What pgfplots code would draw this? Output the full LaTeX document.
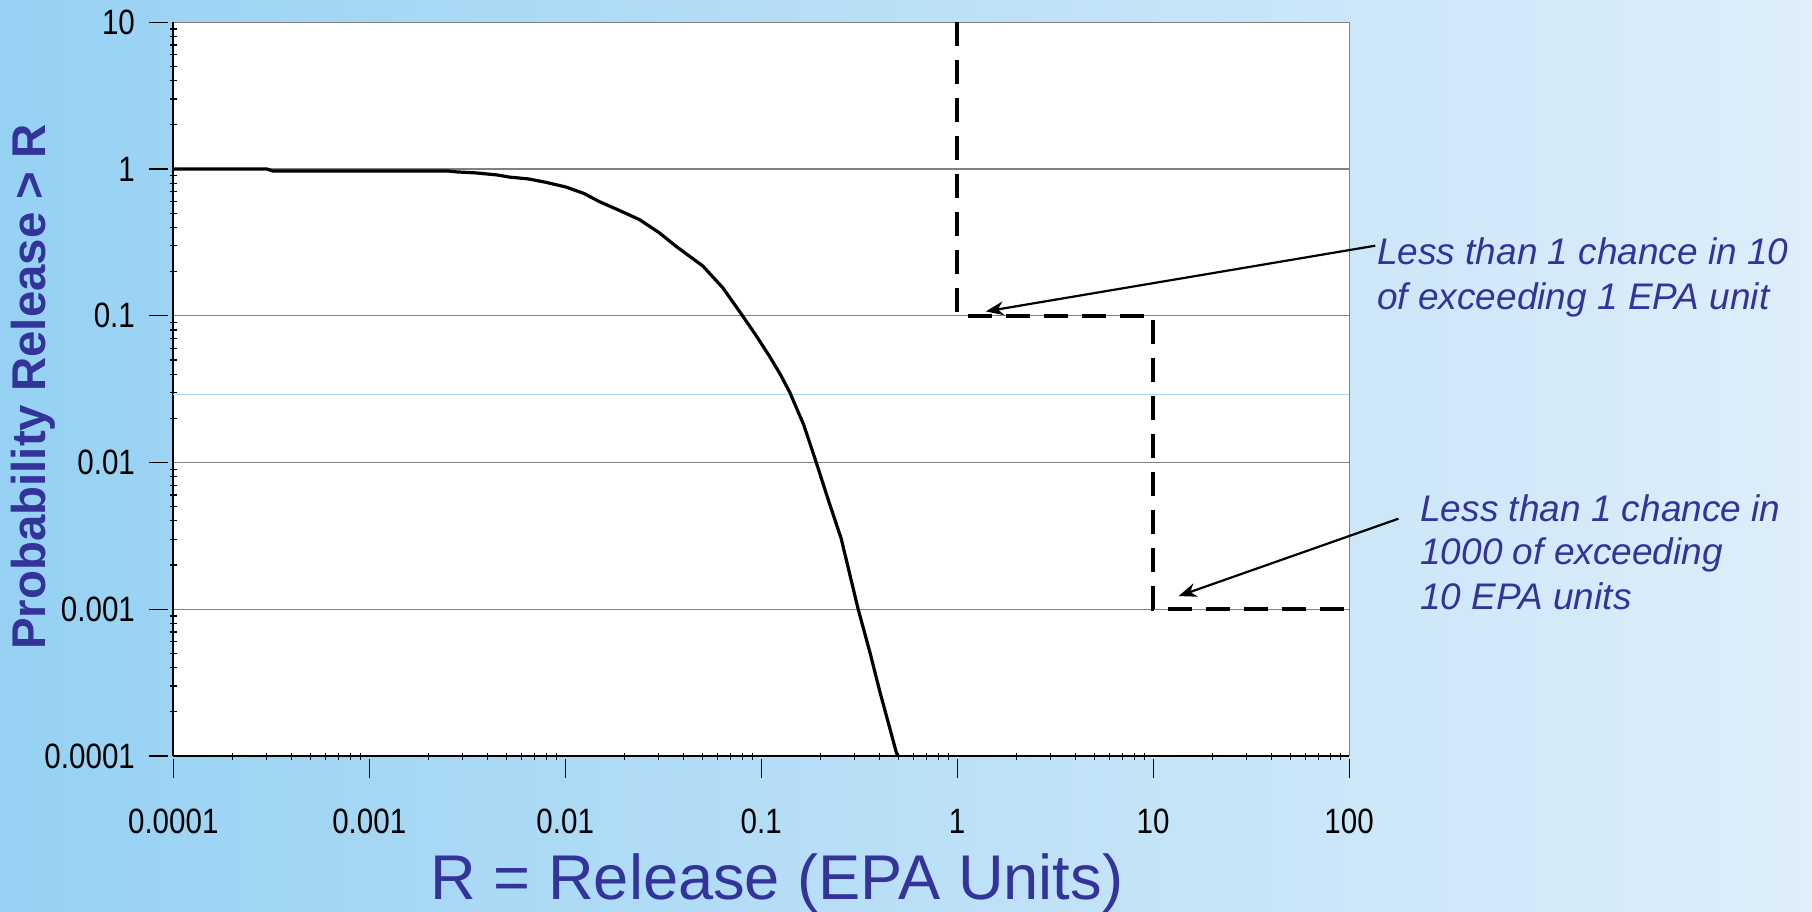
\documentclass[border=0pt]{standalone}
\usepackage{pgfplots}
\pgfplotsset{compat=1.18}
\usepackage{fontspec}
\setmainfont{Liberation Sans}
\newfontfamily\tickfam[FakeStretch=0.84]{Liberation Sans}
\usetikzlibrary{arrows.meta}
\definecolor{txtblue}{RGB}{51,51,153}
\definecolor{bgleft}{RGB}{150,209,243}
\definecolor{bgright}{RGB}{222,238,250}
\definecolor{gridgray}{RGB}{128,128,128}
\definecolor{faintblue}{RGB}{170,214,240}

\begin{document}
\begin{tikzpicture}
\shade[left color=bgleft, right color=bgright] (0,0) rectangle (906bp,456bp);
\begin{axis}[
  at={(86.65bp,78bp)}, anchor=south west,
  scale only axis, width=587.9bp, height=366.9bp,
  xmode=log, ymode=log,
  xmin=1e-4, xmax=100, ymin=1e-4, ymax=10,
  clip=false,
  axis background/.style={fill=white},
  axis lines=left,
  axis line style={-, black, line width=0.9bp},
  xtick={1e-4,1e-3,1e-2,1e-1,1,10,100},
  xticklabels={0.0001,0.001,0.01,0.1,1,10,100},
  ytick={1e-4,1e-3,1e-2,1e-1,1,10},
  yticklabels={0.0001,0.001,0.01,0.1,1,10},
  minor xtick={2e-4,3e-4,4e-4,5e-4,6e-4,7e-4,8e-4,9e-4,
               2e-3,3e-3,4e-3,5e-3,6e-3,7e-3,8e-3,9e-3,
               0.02,0.03,0.04,0.05,0.06,0.07,0.08,0.09,
               0.2,0.3,0.4,0.5,0.6,0.7,0.8,0.9,
               2,3,4,5,6,7,8,9,20,30,40,50,60,70,80,90},
  minor ytick={2e-4,3e-4,4e-4,5e-4,6e-4,7e-4,8e-4,9e-4,
               2e-3,3e-3,4e-3,5e-3,6e-3,7e-3,8e-3,9e-3,
               0.02,0.03,0.04,0.05,0.06,0.07,0.08,0.09,
               0.2,0.3,0.4,0.5,0.6,0.7,0.8,0.9,
               2,3,4,5,6,7,8,9},
  ymajorgrids=true,
  major grid style={gridgray, line width=0.6bp},
  tick style={black, line width=0.6bp},
  major tick length=9.6bp,
  minor tick length=3.5bp,
  every major x tick/.append style={yshift=-6.3bp},
  every major y tick/.append style={xshift=-7.5bp},
  xticklabel style={font=\tickfam\fontsize{17.6bp}{20bp}\selectfont, inner sep=0pt, anchor=north, yshift=-21.6bp},
  yticklabel style={font=\tickfam\fontsize{17.6bp}{20bp}\selectfont, inner sep=0pt, anchor=east, xshift=-14.2bp},
  xlabel={R = Release (EPA Units)},
  xlabel style={at={(axis description cs:0.5134,-0.1949)}, anchor=base, font=\fontsize{31.6bp}{34bp}\selectfont, text=txtblue, inner sep=0pt},
  ylabel={Probability Release > R},
  ylabel style={at={(axis description cs:-0.1193,0.5029)}, anchor=center, font=\bfseries\fontsize{23.7bp}{26bp}\selectfont, text=txtblue, inner sep=0pt},
]
\draw[gridgray, line width=0.6bp] (rel axis cs:1,0) -- (rel axis cs:1,1);
\addplot[faintblue, line width=0.5bp, forget plot] coordinates {(1e-4,0.0292) (100,0.0292)};
\addplot[black, line width=1.6bp] coordinates {
(0.0001,1) (0.0003,1) (0.00032,0.97) (0.0025,0.97) (0.0028,0.955) (0.0035,0.94)
(0.0045,0.91) (0.0052,0.88) (0.0065,0.855) (0.0080,0.81) (0.0101,0.753)
(0.0125,0.68) (0.0149,0.60) (0.019,0.52) (0.0239,0.452) (0.030,0.37)
(0.0368,0.297) (0.0504,0.218) (0.0637,0.155) (0.0805,0.0995) (0.095,0.072)
(0.110,0.0532) (0.125,0.040) (0.140,0.030) (0.165,0.018) (0.191,0.010)
(0.219,0.00566) (0.256,0.00303) (0.312,0.00101) (0.36,0.00050) (0.403,0.000275)
(0.45,0.00016) (0.49,0.000105) (0.5,0.0001)};
\addplot[black, line width=1.9bp, dash pattern=on 12bp off 7bp] coordinates {
(1,10) (1,0.1) (10,0.1) (10,0.001) (100,0.001)};
\draw[black, line width=1.1bp, -{Stealth[length=9bp, width=7bp]}] (axis cs:136,0.30) -- (axis cs:1.40,0.107);
\draw[black, line width=1.1bp, -{Stealth[length=9bp, width=7bp]}] (axis cs:178.6,0.00414) -- (axis cs:13.5,0.00123);
\end{axis}
\begin{scope}[every node/.style={anchor=base west, inner sep=0pt, text=txtblue, font=\itshape\fontsize{18.5bp}{22bp}\selectfont}]
\node at (688.4bp,323.5bp) {Less than 1 chance in 10};
\node at (688.4bp,301bp) {of exceeding 1 EPA unit};
\node at (710bp,195.15bp) {Less than 1 chance in};
\node at (710bp,173.5bp) {1000 of exceeding};
\node at (710bp,151bp) {10 EPA units};
\end{scope}
\pgfresetboundingbox
\useasboundingbox (0,0) rectangle (906bp,456bp);
\end{tikzpicture}
\end{document}
